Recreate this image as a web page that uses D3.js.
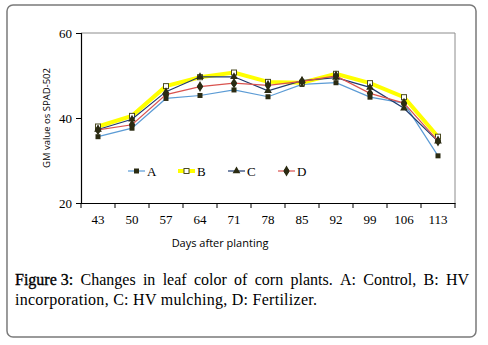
<!DOCTYPE html>
<html>
<head>
<meta charset="utf-8">
<script src="https://cdn.jsdelivr.net/npm/d3@7"></script>
<style>
  body { margin: 0; background: #fff; }
  svg { display: block; }
</style>
</head>
<body>
<div id="chart"></div>
<script>
// days after planting (categories)
const days = [43, 50, 57, 64, 71, 78, 85, 92, 99, 106, 113];
// GM value (SPAD-502) for each treatment
const seriesA = [35.6, 37.6, 44.6, 45.3, 46.6, 45.0, 47.9, 48.3, 44.9, 43.5, 31.1];
const seriesB = [38.0, 40.5, 47.5, 49.6, 50.7, 48.5, 48.3, 50.4, 48.2, 44.9, 35.6];
const seriesC = [37.3, 39.7, 46.2, 49.7, 49.7, 46.4, 48.8, 49.5, 47.2, 42.3, 34.5];
const seriesD = [37.2, 38.4, 45.5, 47.4, 48.2, 47.7, 48.6, 49.9, 45.8, 43.5, 34.6];
const names = ['A', 'B', 'C', 'D'];
const yTicks = [20, 40, 60];

const width = 488, height = 345;
const margin = {top: 33, right: 33, bottom: 142, left: 81};

const svg = d3.select('#chart').append('svg')
    .attr('width', width)
    .attr('height', height);

// outer frame
svg.append('rect')
    .attr('x', 7).attr('y', 5)
    .attr('width', 469).attr('height', 332)
    .attr('rx', 6)
    .attr('fill', 'none')
    .attr('stroke', '#7a7a7a')
    .attr('stroke-width', 1.5);

const x = d3.scaleBand()
    .domain(days)
    .range([margin.left, width - margin.right]);
const y = d3.scaleLinear()
    .domain([20, 60])
    .range([height - margin.bottom, margin.top]);

// plot box (top + right in gray)
svg.append('path')
    .attr('d', `M${x.range()[0]},${y(60)}H${x.range()[1]}V${y(20)}`)
    .attr('fill', 'none')
    .attr('stroke', '#8c8c8c')
    .attr('stroke-width', 1);

// y axis
const yAxis = svg.append('g')
    .attr('transform', `translate(${margin.left},0)`)
    .call(d3.axisLeft(y).tickValues(yTicks).tickSize(5).tickPadding(4));
yAxis.select('.domain').attr('stroke', '#000').attr('stroke-width', 1.2);
yAxis.selectAll('text')
    .attr('font-family', '"Liberation Serif", "Times New Roman", serif')
    .attr('font-size', 13).attr('fill', '#000');

// x axis, ticks between categories
const xAxis = svg.append('g')
    .attr('transform', `translate(0,${y(20)})`)
    .call(d3.axisBottom(x).tickSize(0).tickPadding(12));
xAxis.select('.domain').attr('stroke', '#000').attr('stroke-width', 1.2);
xAxis.selectAll('text')
    .attr('font-family', '"Liberation Serif", "Times New Roman", serif')
    .attr('font-size', 13).attr('fill', '#000');
xAxis.selectAll('line.sep')
    .data(days.concat(['end']))
    .join('line')
    .attr('class', 'sep')
    .attr('x1', (d, i) => x.range()[0] + i * x.step())
    .attr('x2', (d, i) => x.range()[0] + i * x.step())
    .attr('y1', 0).attr('y2', 5)
    .attr('stroke', '#000');

// axis titles
svg.append('text')
    .attr('x', 220)
    .attr('y', 247)
    .attr('text-anchor', 'middle')
    .attr('font-family', '"Open Sans", "Liberation Sans", sans-serif')
    .attr('font-size', 11)
    .text('Days after planting');

svg.append('text')
    .attr('transform', `translate(50,${y(40)}) rotate(-90)`)
    .attr('text-anchor', 'middle')
    .attr('font-family', '"Open Sans", "Liberation Sans", sans-serif')
    .attr('font-size', 9.5)
    .text('GM value os SPAD-502');

// series styling
const series = [
    {name: 'A', values: seriesA, color: '#5b9bd5', width: 1.2, marker: 'square'},
    {name: 'B', values: seriesB, color: '#ffff00', width: 4, marker: 'open'},
    {name: 'C', values: seriesC, color: '#1f3a6e', width: 1.2, marker: 'triangle'},
    {name: 'D', values: seriesD, color: '#d9534f', width: 1.2, marker: 'diamond'}
];
const markColor = '#2b2b12';

const line = d3.line()
    .x((d, i) => x(days[i]) + x.bandwidth() / 2)
    .y(d => y(d));

function drawMarker(g, type) {
    if (type === 'square') {
        g.append('rect').attr('x', -2.5).attr('y', -2.5).attr('width', 5).attr('height', 5)
            .attr('fill', markColor);
    } else if (type === 'open') {
        g.append('rect').attr('x', -2.5).attr('y', -2.5).attr('width', 5).attr('height', 5)
            .attr('fill', '#fff').attr('stroke', '#4a4a20').attr('stroke-width', 1);
    } else if (type === 'triangle') {
        g.append('path').attr('d', d3.symbol(d3.symbolTriangle, 26)())
            .attr('fill', markColor);
    } else {
        g.append('path').attr('d', d3.symbol(d3.symbolDiamond, 34)())
            .attr('fill', markColor);
        g.append('circle').attr('r', 2.6).attr('fill', markColor);
    }
}

series.forEach(s => {
    const g = svg.append('g');
    g.append('path')
        .attr('d', line(s.values))
        .attr('fill', 'none')
        .attr('stroke', s.color)
        .attr('stroke-width', s.width);
    s.values.forEach((v, i) => {
        const m = g.append('g')
            .attr('transform', `translate(${x(days[i]) + x.bandwidth() / 2},${y(v)})`);
        drawMarker(m, s.marker);
    });
});

// legend
const legend = svg.append('g').attr('transform', `translate(128,${y(20) - 32})`);
series.forEach((s, i) => {
    const item = legend.append('g').attr('transform', `translate(${i * 50},0)`);
    item.append('line')
        .attr('x1', 0).attr('x2', 17)
        .attr('stroke', s.color).attr('stroke-width', s.width);
    drawMarker(item.append('g').attr('transform', 'translate(8.5,0)'), s.marker);
    item.append('text')
        .attr('x', 19).attr('y', 4.5)
        .attr('font-family', '"Liberation Serif", "Times New Roman", serif')
        .attr('font-size', 13)
        .text(s.name);
});

// caption, first line justified
const capFont = '"Liberation Serif", "Times New Roman", serif';
const line1 = ['Figure 3:', 'Changes', 'in', 'leaf', 'color', 'of', 'corn', 'plants.', 'A:', 'Control,', 'B:', 'HV'];
const capLeft = 15, capRight = 469;
const words = svg.append('g');
const wNodes = line1.map((w, i) => words.append('text')
    .attr('y', 285)
    .attr('font-family', capFont)
    .attr('font-size', 16)
    .attr('stroke', i === 0 ? '#000' : 'none')
    .attr('stroke-width', 0.35)
    .text(w));
const widths = wNodes.map(t => t.node().getComputedTextLength());
const gap = (capRight - capLeft - d3.sum(widths)) / (line1.length - 1);
let cx = capLeft;
wNodes.forEach((t, i) => { t.attr('x', cx); cx += widths[i] + gap; });

svg.append('text')
    .attr('x', capLeft).attr('y', 305)
    .attr('font-family', capFont)
    .attr('font-size', 16)
    .attr('textLength', 302)
    .attr('lengthAdjust', 'spacing')
    .text('incorporation, C: HV mulching, D: Fertilizer.');
</script>
</body>
</html>
